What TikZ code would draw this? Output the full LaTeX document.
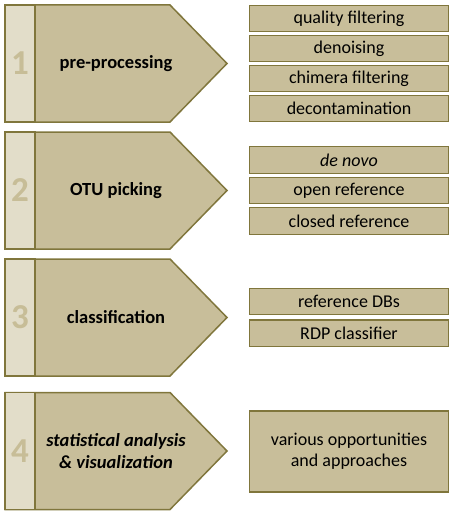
\documentclass[tikz,border=0pt]{standalone}
\usepackage{fontspec}
\setmainfont{Carlito}
\usetikzlibrary{positioning}

\definecolor{stepborder}{RGB}{128,118,60}
\definecolor{stepfill}{RGB}{200,190,154}
\definecolor{stripfill}{RGB}{226,221,201}
\definecolor{numcolor}{RGB}{199,189,151}

\begin{document}
\begin{tikzpicture}[
    x=1pt, y=-1pt,
    stepshape/.style={draw=stepborder, line width=1.5pt, fill=stepfill, line join=miter},
    steplabel/.style={align=center, inner sep=0pt, font=\fontsize{18.5}{22}\selectfont\bfseries},
    strip/.style={rectangle, draw=stepborder, line width=1.5pt, fill=stripfill, minimum width=30pt, minimum height=117pt, inner sep=0pt},
    num/.style={font=\fontsize{35}{35}\selectfont\bfseries, text=numcolor, inner sep=0pt},
    task/.style={rectangle, draw=stepborder, line width=1.2pt, fill=stepfill, minimum width=199pt, minimum height=26.5pt, inner sep=0pt, font=\fontsize{18}{21}\selectfont}
]
\useasboundingbox (0,0) rectangle (454,516);

% Steps with number strips
\foreach \n/\y/\lbl in {1/63.5/{pre-processing}, 2/190.5/{OTU picking}, 3/317.5/{classification}, 4/451/{\itshape statistical analysis\\\itshape \& visualization}}{
    \path[stepshape] (5,\y-58.5) -- (170,\y-58.5) -- (227,\y) -- (170,\y+58.5) -- (5,\y+58.5) -- cycle;
    \node[strip] (strip\n) at (20,\y) {};
    \node[num] (num\n) at (strip\n.center) {\n};
    \node[steplabel] (step\n) at (116,\y) {\lbl};
}

% Pre-processing tasks
\node[task] (quality) at (349,18.5) {quality filtering};
\node[task, below=2.3pt of quality] (denoise) {denoising};
\node[task, below=2.3pt of denoise] (chimera) {chimera filtering};
\node[task, below=2.3pt of chimera] (decontam) {decontamination};

% OTU picking strategies
\node[task] (denovo) at (349,160) {\itshape de novo};
\node[task, below=2.8pt of denovo] (openref) {open reference};
\node[task, below=2.8pt of openref] (closedref) {closed reference};

% Classification resources
\node[task] (refdb) at (349,301.5) {reference DBs};
\node[task, below=4pt of refdb] (rdp) {RDP classifier};

% Downstream analysis
\node[task, minimum height=81pt, align=center] (various) at (349,451.5) {various opportunities\\and approaches};

\end{tikzpicture}
\end{document}
